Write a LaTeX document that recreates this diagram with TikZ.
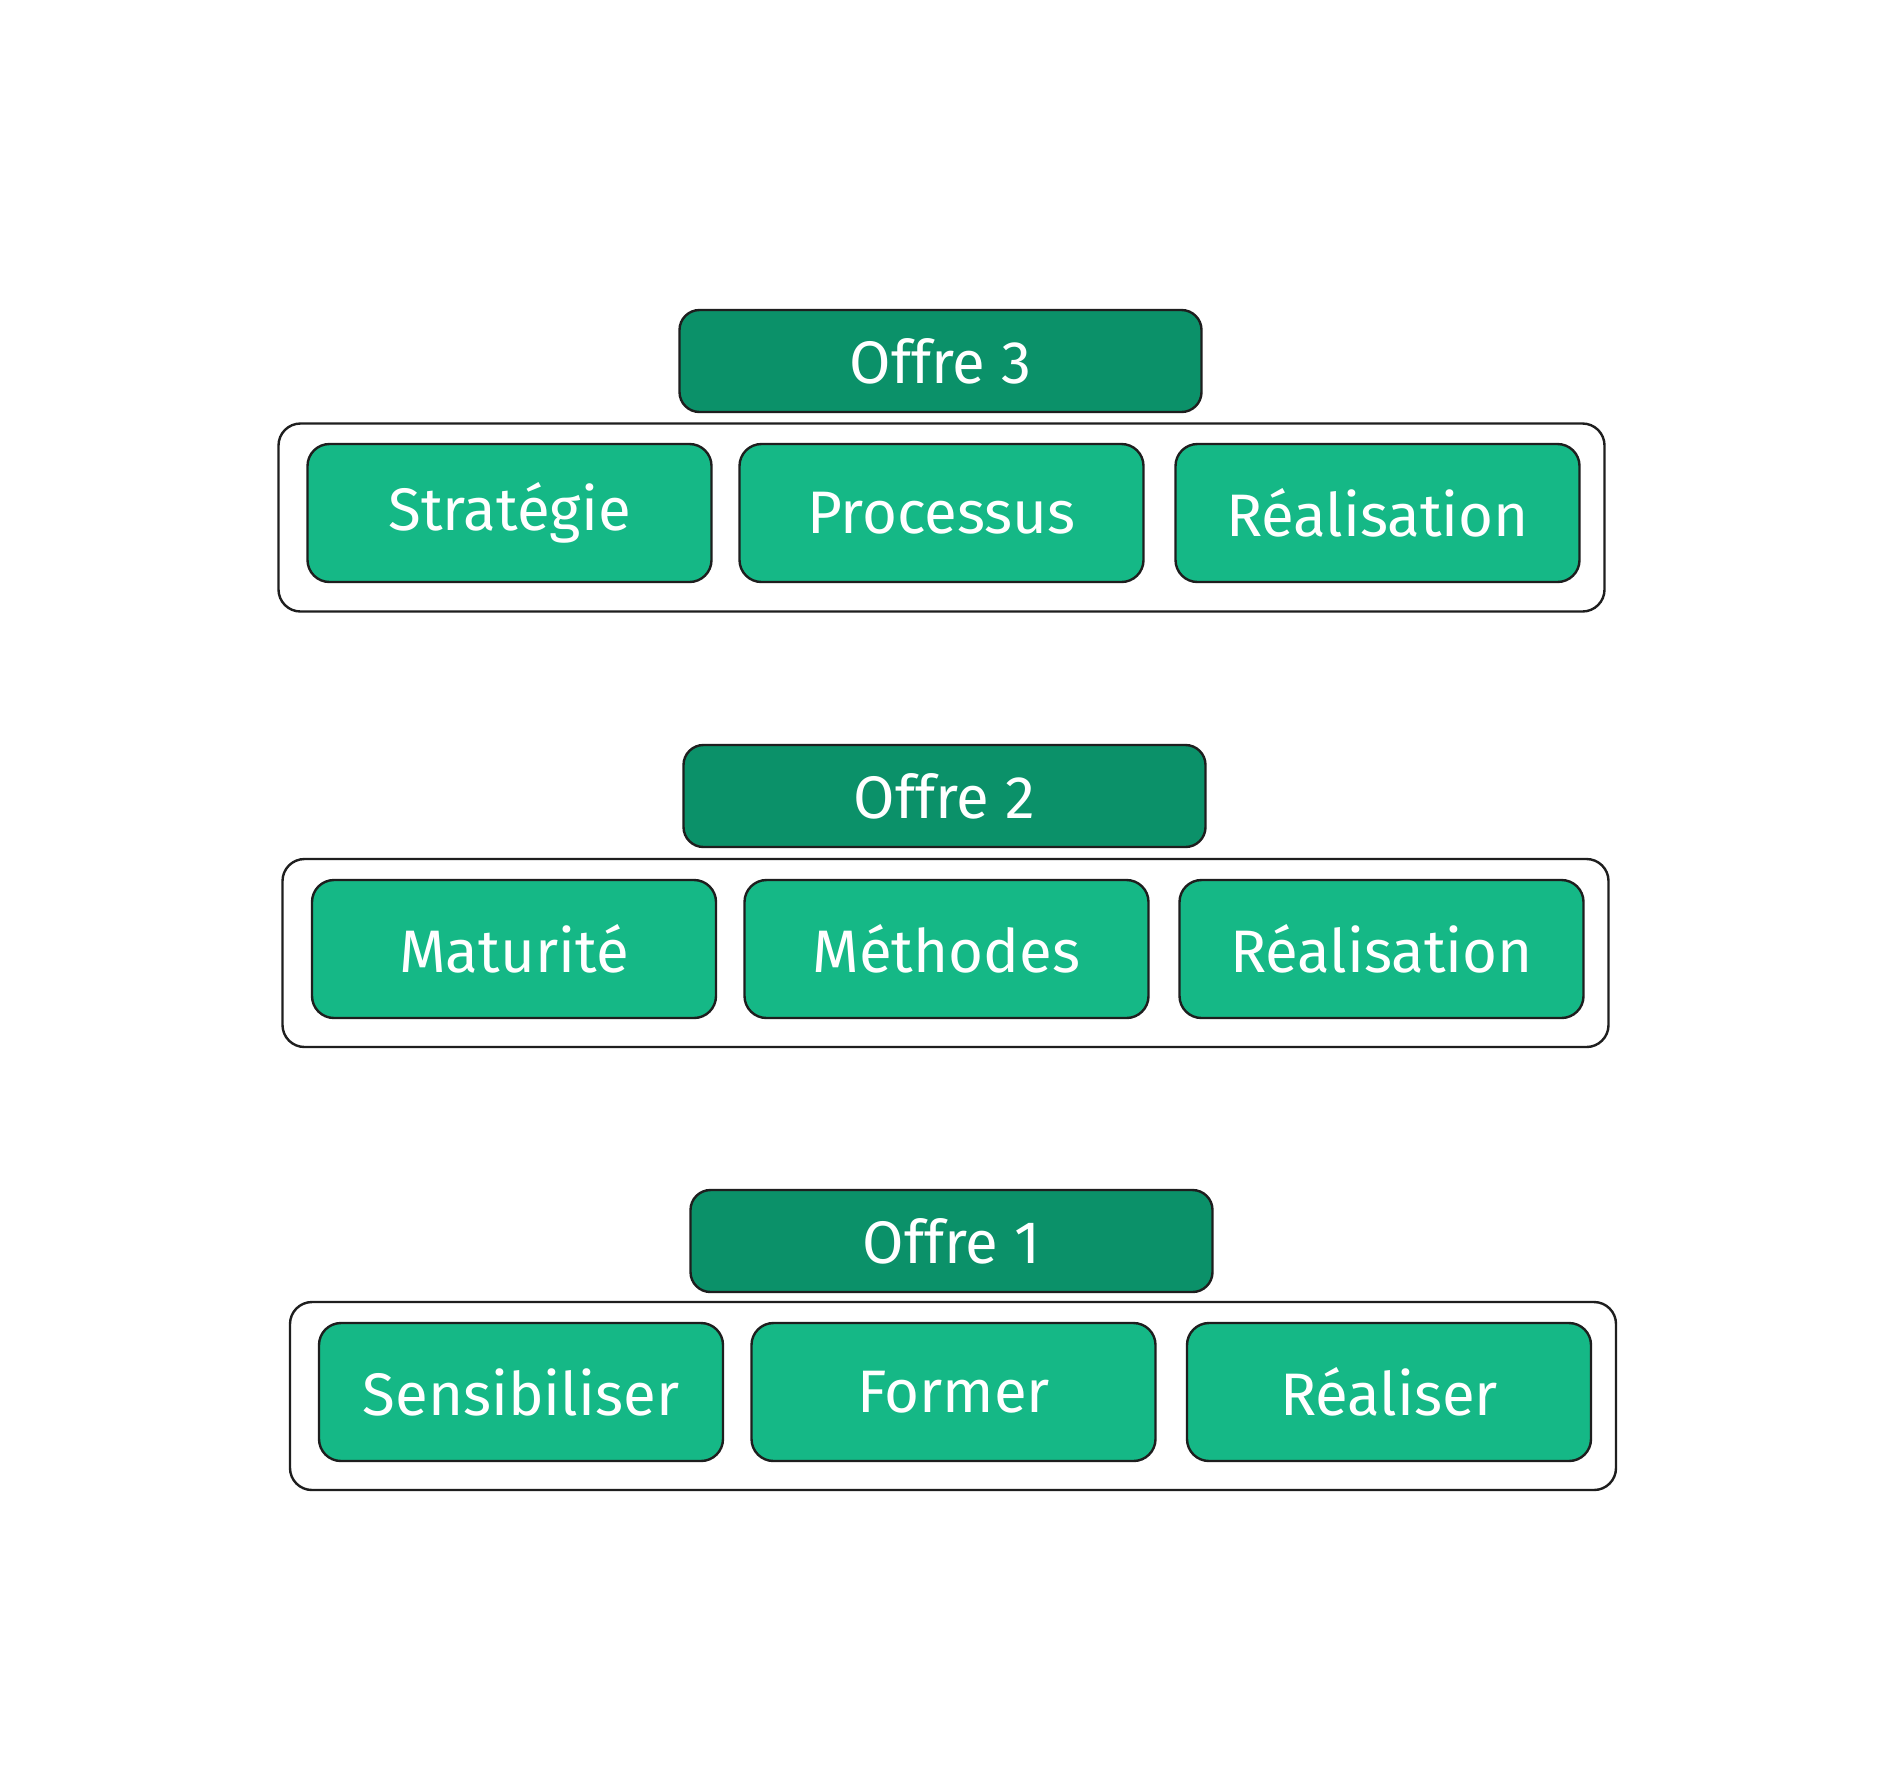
\documentclass[tikz,border=0pt]{standalone}
\usepackage{fontspec}
\setmainfont{Fira Sans}
\usepackage{tikz}

\definecolor{offredark}{HTML}{0B9169}
\definecolor{offrelight}{HTML}{15B886}
\definecolor{trait}{HTML}{1E1E1E}

\begin{document}
\begin{tikzpicture}[x=0.5pt,y=-0.5pt]
    \useasboundingbox[fill=white] (0,0) rectangle (1882,1783);

    % cadres
    \begin{scope}[every node/.style={draw=trait,line width=1.2pt,rounded corners=11pt,
        fill=white,minimum width=663pt,minimum height=94pt}]
      \node (c3) at (941.5,517.5) {};
      \node (c2) at (945.5,953) {};
      \node (c1) at (953,1396) {};
    \end{scope}

    % titres
    \begin{scope}[every node/.style={draw=trait,line width=1.2pt,rounded corners=10pt,
        fill=offredark,text=white,font=\fontsize{30}{36}\selectfont,
        minimum width=261pt,minimum height=51pt}]
      \node (o3) at (940.5,361) {Offre 3};
      \node (o2) at (944.5,796) {Offre 2};
      \node (o1) at (951.5,1241) {Offre 1};
    \end{scope}

    % etapes
    \begin{scope}[every node/.style={draw=trait,line width=1.2pt,rounded corners=11pt,
        fill=offrelight,text=white,font=\fontsize{30}{36}\selectfont,
        minimum width=202pt,minimum height=69pt}]
      \node (a3) at (509.5,513) {Stratégie};
      \node (b3) at (941.5,513) {Processus};
      \node (d3) at (1377.5,513) {Réalisation};

      \node (a2) at (514,949) {Maturité};
      \node (b2) at (946.5,949) {Méthodes};
      \node (d2) at (1381.5,949) {Réalisation};

      \node (a1) at (521,1392) {Sensibiliser};
      \node (b1) at (953.5,1392) {Former};
      \node (d1) at (1389,1392) {Réaliser};
    \end{scope}
  \end{tikzpicture}
\end{document}
